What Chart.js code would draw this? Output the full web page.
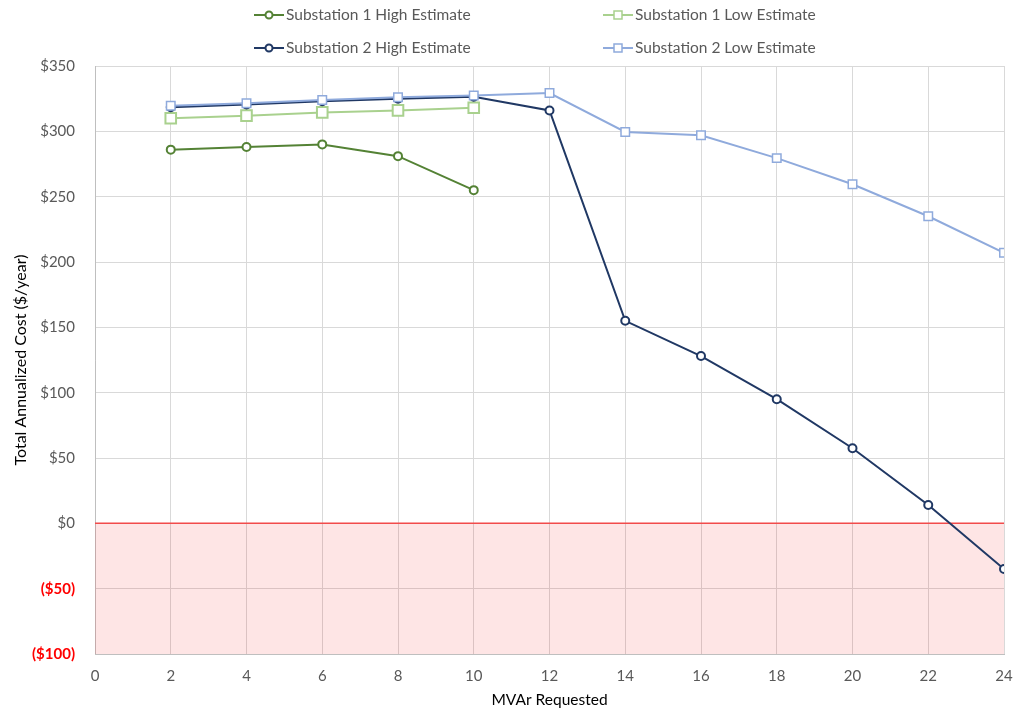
<!DOCTYPE html>
<html>
<head>
<meta charset="utf-8">
<script src="https://cdn.jsdelivr.net/npm/chart.js@4.4.1/dist/chart.umd.min.js"></script>
<style>
  html, body { margin: 0; padding: 0; background: #fff; }
  #wrap { width: 1015px; height: 711px; position: relative; }
</style>
</head>
<body>
<div id="wrap"><canvas id="c" width="1015" height="711"></canvas></div>
<script>
// ---- Data ----
const xValues = [2, 4, 6, 8, 10, 12, 14, 16, 18, 20, 22, 24];
const sub1High = [286, 288, 290, 281, 255];
const sub1Low = [310, 312, 314.5, 316, 318];
const sub2High = [318.5, 320.5, 323, 325, 326.5, 316, 155, 128, 95, 57.5, 14, -35];
const sub2Low = [319.5, 321.5, 324, 326, 327.5, 329.3, 299.5, 297, 279.5, 259.5, 235, 207];
const seriesNames = ['Substation 1 High Estimate', 'Substation 1 Low Estimate', 'Substation 2 High Estimate', 'Substation 2 Low Estimate'];
const yTicks = [-100, -50, 0, 50, 100, 150, 200, 250, 300, 350];
const xTicks = [0, 2, 4, 6, 8, 10, 12, 14, 16, 18, 20, 22, 24];
const negativeZone = [{x: 0, y: 0}, {x: 24, y: 0}];

const toPts = (vals) => vals.map((v, i) => ({x: xValues[i], y: v}));

const FONT = 'Lato, "Open Sans", sans-serif';

const colors = ['#548235', '#a9d18e', '#203864', '#8faadc'];
const styles = ['circle', 'rect', 'circle', 'rect'];

const legendPlugin = {
  id: 'customLegend',
  afterDraw(chart) {
    const ctx = chart.ctx;
    const pos = [
      {x: 254, y: 15}, {x: 603, y: 15},
      {x: 254, y: 48}, {x: 603, y: 48}
    ];
    ctx.save();
    for (let i = 0; i < 4; i++) {
      const p = pos[i];
      const c = colors[i];
      ctx.strokeStyle = c;
      ctx.lineWidth = 2;
      ctx.beginPath();
      ctx.moveTo(p.x, p.y);
      ctx.lineTo(p.x + 30, p.y);
      ctx.stroke();
      ctx.fillStyle = '#fff';
      if (styles[i] === 'circle') {
        ctx.beginPath();
        ctx.arc(p.x + 15, p.y, 3.5, 0, Math.PI * 2);
        ctx.fill();
        ctx.stroke();
      } else {
        ctx.lineWidth = 1.5;
        ctx.fillRect(p.x + 11, p.y - 4, 8, 8);
        ctx.strokeRect(p.x + 11, p.y - 4, 8, 8);
      }
      ctx.fillStyle = '#595959';
      ctx.font = '15.5px ' + FONT;
      ctx.textBaseline = 'middle';
      ctx.textAlign = 'left';
      ctx.fillText(seriesNames[i], p.x + 32, p.y);
    }
    ctx.restore();
  }
};

const ds = (label, data, color, style, radius, bw, order) => ({
  label, data: toPts(data),
  borderColor: color, backgroundColor: '#ffffff',
  borderWidth: 2,
  pointStyle: style, pointRadius: radius, pointHoverRadius: radius,
  pointBorderWidth: bw, pointBackgroundColor: '#ffffff', pointBorderColor: color,
  tension: 0, fill: false, order
});

new Chart(document.getElementById('c'), {
  type: 'line',
  data: {
    datasets: [
      ds(seriesNames[0], sub1High, colors[0], 'circle', 4, 2, 4),
      ds(seriesNames[1], sub1Low, colors[1], 'rect', 7.5, 2, 3),
      ds(seriesNames[2], sub2High, colors[2], 'circle', 4, 2, 2),
      ds(seriesNames[3], sub2Low, colors[3], 'rect', 6, 1.5, 1),
      {
        label: 'Negative', data: negativeZone,
        borderColor: '#f24b4b', borderWidth: 1.5,
        backgroundColor: 'rgba(250,0,0,0.1)',
        fill: 'start', pointRadius: 0, order: 10
      }
    ]
  },
  options: {
    responsive: false,
    animation: false,
    devicePixelRatio: 1,
    layout: { padding: { top: 66, right: 11, bottom: 0, left: 0 } },
    plugins: { legend: { display: false }, tooltip: { enabled: false } },
    scales: {
      x: {
        type: 'linear', min: 0, max: 24,
        afterBuildTicks: (s) => { s.ticks = xTicks.map(v => ({value: v})); },
        afterFit: (s) => { s.height = 57; s.paddingLeft = 0; s.paddingRight = 0; },
        grid: { color: '#d9d9d9', drawTicks: false },
        border: { color: '#bfbfbf' },
        ticks: { color: '#595959', font: { family: FONT, size: 15 }, padding: 13, maxRotation: 0 },
        title: { display: true, text: 'MVAr Requested', color: '#000', font: { family: FONT, size: 15.5 }, padding: { top: 0, bottom: 2 } }
      },
      y: {
        type: 'linear', min: -100, max: 350,
        afterBuildTicks: (s) => { s.ticks = yTicks.map(v => ({value: v})); },
        afterFit: (s) => { s.width = 95; s.paddingTop = 0; s.paddingBottom = 0; },
        grid: { color: '#d9d9d9', drawTicks: false },
        border: { color: '#bfbfbf' },
        ticks: {
          font: (ctx) => ({ family: FONT, size: 15, weight: (ctx.tick && ctx.tick.value < 0) ? 'bold' : 'normal' }),
          padding: 20,
          color: (ctx) => ctx.tick.value < 0 ? '#ff0000' : '#595959',
          callback: (v) => v < 0 ? '($' + (-v) + ')' : '$' + v
        },
        title: { display: true, text: 'Total Annualized Cost ($/year)', color: '#000', font: { family: FONT, size: 16 }, padding: { top: 11, bottom: 0 } }
      }
    }
  },
  plugins: [legendPlugin]
});
</script>
</body>
</html>
